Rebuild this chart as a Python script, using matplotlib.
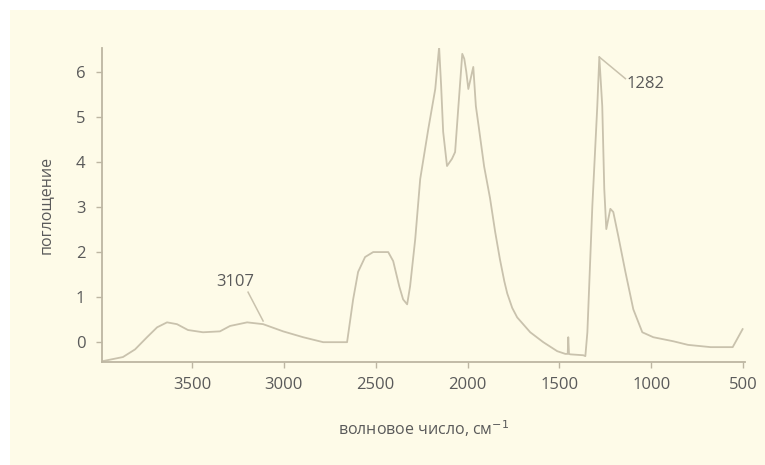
import matplotlib
matplotlib.use("Agg")
import matplotlib.pyplot as plt
from matplotlib.patches import Rectangle

# spectrum (wavenumber, absorbance)
wavenumber = [3985, 3876, 3810, 3745, 3690, 3636, 3582, 3522, 3440, 3348, 3293, 3200,
              3113, 3004, 2895, 2786, 2656, 2623, 2596, 2558, 2514, 2432, 2405, 2372,
              2351, 2329, 2313, 2285, 2258, 2214, 2176, 2155, 2144, 2133, 2112, 2085,
              2068, 2051, 2029, 2018, 2007, 1996, 1980, 1969, 1955, 1940, 1910, 1878,
              1850, 1824, 1800, 1784, 1757, 1730, 1659, 1588, 1512, 1468, 1455, 1452,
              1448, 1441, 1370, 1359, 1348, 1321, 1294, 1283, 1267, 1256, 1245, 1223,
              1207, 1180, 1141, 1098, 1049, 989, 880, 800, 677, 557, 503]
absorbance = [-0.42, -0.33, -0.16, 0.11, 0.33, 0.44, 0.40, 0.27, 0.22, 0.24, 0.36, 0.44,
              0.40, 0.24, 0.11, 0.00, 0.00, 0.95, 1.56, 1.89, 2.00, 2.00, 1.80, 1.24,
              0.95, 0.84, 1.24, 2.29, 3.62, 4.73, 5.62, 6.55, 5.69, 4.67, 3.91, 4.07,
              4.22, 5.18, 6.40, 6.29, 6.00, 5.62, 5.91, 6.11, 5.24, 4.80, 3.90, 3.20,
              2.45, 1.84, 1.35, 1.08, 0.76, 0.55, 0.22, 0.00, -0.20, -0.26, -0.26, 0.11,
              -0.26, -0.27, -0.29, -0.31, 0.22, 3.02, 5.24, 6.33, 5.24, 3.40, 2.51, 2.96,
              2.89, 2.36, 1.56, 0.73, 0.22, 0.11, 0.02, -0.06, -0.11, -0.11, 0.29]

xticks = [3500, 3000, 2500, 2000, 1500, 1000, 500]
yticks = [0, 1, 2, 3, 4, 5, 6]
annotations = [("3107", 3113, 0.47, 3195, 1.11, 3266, 1.33, "center"),
               ("1282", 1283, 6.33, 1141, 5.85, 1135, 5.72, "left")]

bg = "#fefbe8"
line_c = "#c9c2ad"
axis_c = "#bdb6a2"
text_c = "#5a5a5a"

plt.rcParams['font.family'] = ['Open Sans', 'DejaVu Sans']

fig = plt.figure(figsize=(7.65, 4.65), dpi=100)
fig.patch.set_facecolor("white")
fig.patches.append(Rectangle((10/765, 0), 1, 1 - 10/465, transform=fig.transFigure,
                             facecolor=bg, edgecolor="none", zorder=-10))

ax = fig.add_axes([102/765, 1 - 362/465, (745 - 102)/765, (362 - 48)/465])
ax.set_facecolor("none")
ax.plot(wavenumber, absorbance, color=line_c, lw=1.3, solid_joinstyle="round")
ax.set_xlim(3990, 490)
ax.set_ylim(-0.44, 6.53)
ax.set_xticks(xticks)
ax.set_yticks(yticks)
for s in ["top", "right"]:
    ax.spines[s].set_visible(False)
for s in ["left", "bottom"]:
    ax.spines[s].set_color(axis_c)
    ax.spines[s].set_linewidth(1.3)
ax.tick_params(colors=axis_c, length=4, width=1, labelcolor=text_c, labelsize=12)
ax.tick_params(axis="x", pad=7)
ax.tick_params(axis="y", pad=8)
ax.set_xlabel("волновое число, см$^{-1}$", color=text_c, fontsize=11.5, labelpad=18)
ax.set_ylabel("поглощение", color=text_c, fontsize=11.5, labelpad=16)

for label, x0, y0, x1, y1, tx, ty, ha in annotations:
    ax.plot([x0, x1], [y0, y1], color=line_c, lw=1.1)
    ax.text(tx, ty, label, ha=ha, va="center", color=text_c, fontsize=12)

fig.savefig("out.png", dpi=100)
